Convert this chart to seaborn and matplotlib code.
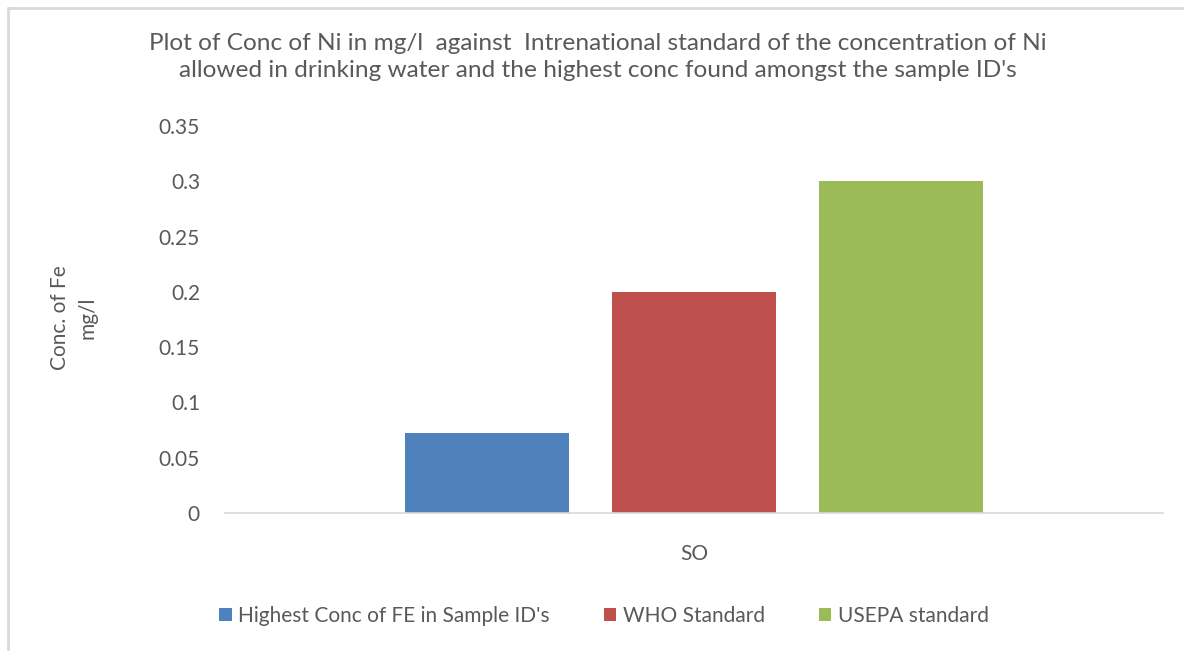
import pandas as pd
import matplotlib.pyplot as plt
import seaborn as sns
from matplotlib.lines import Line2D

# --- data ---
sample_ids = ["SO", "SO", "SO"]
series = ["Highest Conc of FE in Sample ID's", "WHO Standard", "USEPA standard"]
conc = [0.072, 0.2, 0.3]
y_ticks = [0, 0.05, 0.1, 0.15, 0.2, 0.25, 0.3, 0.35]
y_tick_labels = ["0", "0.05", "0.1", "0.15", "0.2", "0.25", "0.3", "0.35"]

df = pd.DataFrame({"sample": sample_ids, "series": series, "conc": conc})

sns.set_theme(style="white")
plt.rcParams["font.family"] = ["Lato", "DejaVu Sans"]
TEXT = "#595959"
GRID = "#D9D9D9"
COLORS = ["#4F81BD", "#C0504D", "#9BBB59"]
FS = 15

fig = plt.figure(figsize=(11.84, 6.51), dpi=100)
ax = fig.add_axes([225 / 1184, 1 - 513 / 651, (1163 - 225) / 1184, (513 - 126) / 651])

sns.barplot(data=df, x="sample", y="conc", hue="series", palette=COLORS,
            width=0.663, gap=0.21, saturation=1, linewidth=0, ax=ax)

ax.set_ylim(0, 0.35)
ax.set_xlim(-0.5, 0.5)
ax.set_yticks(y_ticks)
ax.set_yticklabels(y_tick_labels)
ax.set_xlabel("")
ax.set_ylabel("")
ax.tick_params(axis="y", length=0, pad=18, labelsize=FS, labelcolor=TEXT)
ax.tick_params(axis="x", length=0, pad=22, labelsize=FS, labelcolor=TEXT)
for side in ["left", "right", "top"]:
    ax.spines[side].set_visible(False)
ax.spines["bottom"].set_color(GRID)
ax.spines["bottom"].set_linewidth(1.2)

# legend at the bottom
sns.move_legend(ax, "center", bbox_to_anchor=(604 / 1184, 1 - 616 / 651),
                bbox_transform=fig.transFigure, ncol=3, frameon=False, title=None,
                fontsize=FS, handlelength=0.6, handleheight=0.6, handletextpad=0.3,
                columnspacing=2.6, labelcolor=TEXT)

fig.text(598 / 1184, 1 - 57 / 651,
         "Plot of Conc of Ni in mg/l  against  Intrenational standard of the concentration of Ni\n"
         "allowed in drinking water and the highest conc found amongst the sample ID's",
         ha="center", va="center", fontsize=17.6, color=TEXT, linespacing=1.4)

fig.text(74 / 1184, 1 - 318 / 651, "Conc. of Fe\nmg/l", rotation=90,
         ha="center", va="center", multialignment="center",
         fontsize=FS, color=TEXT, linespacing=1.45)

# chart area border (top and left edges visible)
fig.add_artist(Line2D([7.5 / 1184, 7.5 / 1184], [0, 1 - 7.5 / 651],
                      transform=fig.transFigure, color=GRID, lw=2))
fig.add_artist(Line2D([7.5 / 1184, 1], [1 - 7.5 / 651, 1 - 7.5 / 651],
                      transform=fig.transFigure, color=GRID, lw=2))

fig.savefig("out.png", dpi=100)
